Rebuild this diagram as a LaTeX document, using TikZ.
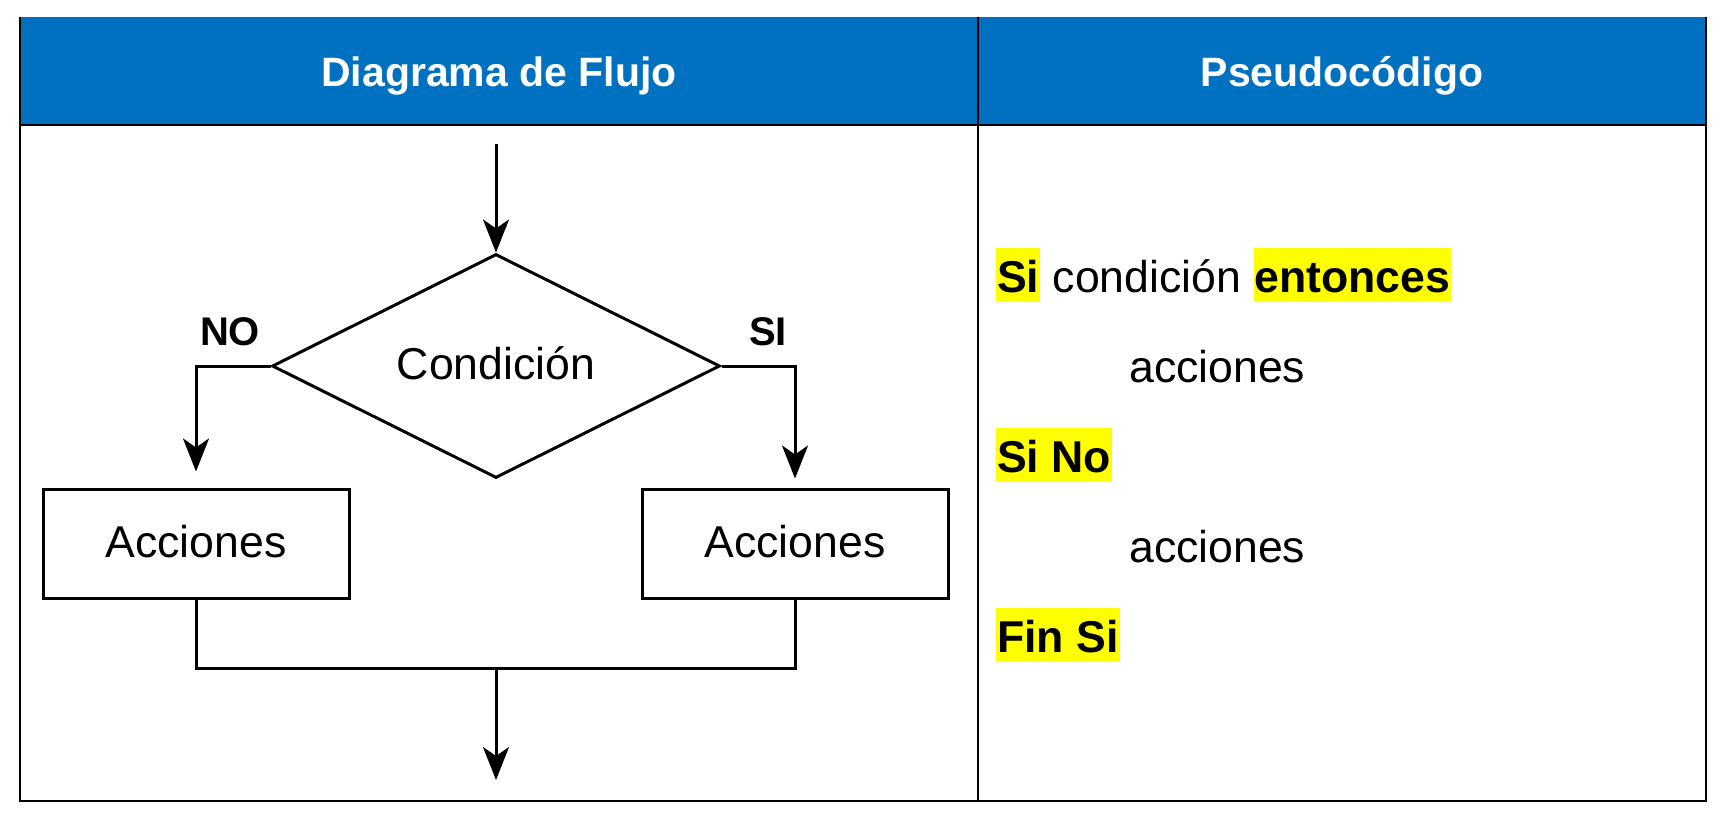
\documentclass[tikz,border=0pt]{standalone}
\usepackage{fontspec}
\setmainfont{Liberation Sans}
\usetikzlibrary{shapes.geometric,arrows.meta}
\definecolor{hdrblue}{HTML}{0070C0}
\definecolor{hlyellow}{HTML}{FFFF00}
\newcommand\hlword[1]{{\setlength\fboxsep{0pt}\colorbox{hlyellow}{\rule[-10pt]{0pt}{54pt}\kern1pt\textbf{#1}\kern1pt}}}
\begin{document}
\begin{tikzpicture}[x=1pt,y=-1pt,
  every node/.style={inner sep=0pt},
  body/.style={font=\fontsize{44.6pt}{50pt}\selectfont},
  hdr/.style={font=\fontsize{41pt}{48pt}\selectfont\bfseries, text=white, anchor=base},
  lbl/.style={font=\fontsize{40pt}{46pt}\selectfont\bfseries, anchor=base},
  flow/.style={line width=3pt},
  arr/.style={flow,-{Stealth[length=33pt,width=26pt,inset=9pt]}},
  decision/.style={diamond, shape aspect=2, draw, flow, minimum width=448pt, minimum height=224pt, body, text height=32pt, text depth=6pt},
  actbox/.style={rectangle, draw, flow, minimum width=306pt, minimum height=109pt, body, text height=32pt, text depth=5pt},
  tablerule/.style={line width=2pt},
  pseudo/.style={body, anchor=base west}]
\useasboundingbox (0,0) rectangle (1730,814);
% table
\fill[hdrblue] (20,17) rectangle (1706,125);
\draw[tablerule] (20,17) -- (20,801) -- (1706,801) -- (1706,17);
\draw[tablerule] (20,125) -- (1706,125);
\draw[tablerule] (978,17) -- (978,801);
\node[hdr] (h1) at (499,86) {Diagrama de Flujo};
\node[hdr] (h2) at (1342,86) {Pseudocódigo};
% flowchart
\coordinate (start) at (496,144);
\node[decision] (cond) at (496,366) {Condición};
\node[actbox] (actL) at (196,543.5) {Acciones};
\node[actbox] (actR) at (795,543.5) {Acciones};
\node[lbl] (no) at (230,345) {NO};
\node[lbl] (si) at (768,345) {SI};
\coordinate (merge) at (496,668);
\coordinate (end) at (496,780);
\draw[arr] (start) -- (cond.north);
\draw[arr, shorten >=16pt] (cond.west) -| (actL.north);
\draw[arr, shorten >=9pt] (cond.east) -| (actR.north);
\draw[flow] (actL.south) |- (merge) -| (actR.south);
\draw[arr] (merge) -- (end);
% pseudocode
\node[pseudo] (p1) at (996,292) {\hlword{Si} condición \hlword{entonces}};
\node[pseudo] (p2) at (1129,382) {acciones};
\node[pseudo] (p3) at (996,472) {\hlword{Si No}};
\node[pseudo] (p4) at (1129,562) {acciones};
\node[pseudo] (p5) at (996,652) {\hlword{Fin Si}};
\end{tikzpicture}
\end{document}
